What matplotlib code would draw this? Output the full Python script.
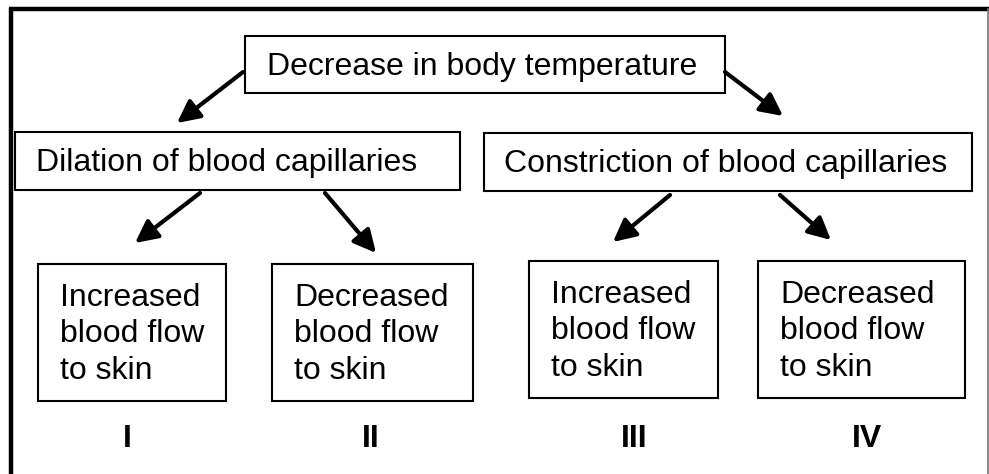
import matplotlib
matplotlib.use("Agg")
import matplotlib.pyplot as plt
from matplotlib.patches import Rectangle, FancyArrowPatch

plt.rcParams['font.family'] = ['Liberation Sans', 'DejaVu Sans']

# Boxes: (label, x0, y0, x1, y1) in pixel space
top_box = ("Decrease in body temperature", 245, 36, 725, 93)
mid_boxes = [
    ("Dilation of blood capillaries", 15, 132, 460, 190),
    ("Constriction of blood capillaries", 484, 133, 972, 191),
]
bottom_lines = [["Increased", "blood flow", "to skin"],
                ["Decreased", "blood flow", "to skin"],
                ["Increased", "blood flow", "to skin"],
                ["Decreased", "blood flow", "to skin"]]
bottom_boxes = [(38, 264, 226, 401), (272, 264, 473, 401),
                (529, 261, 718, 398), (758, 261, 965, 398)]
numerals = ["I", "II", "III", "IV"]
numeral_x = [127, 371, 634, 867]
arrows = [((243, 72), (177, 123)), ((725, 72), (783, 116)),
          ((200, 193), (135, 243)), ((325, 193), (376, 253)),
          ((670, 195), (613, 242)), ((780, 195), (831, 240))]

W, H = 989, 474
fig = plt.figure(figsize=(W / 100, H / 100), dpi=100)
ax = fig.add_axes([0, 0, 1, 1])
ax.set_xlim(0, W)
ax.set_ylim(H, 0)
ax.axis('off')

# outer frame
ax.plot([9, 989], [9, 9], color='black', lw=3.2, solid_capstyle='butt')
ax.plot([11, 11], [7.5, 474], color='black', lw=3.2, solid_capstyle='butt')
ax.plot([987.5, 987.5], [9, 474], color='#777777', lw=1.2)

def box(x0, y0, x1, y1):
    ax.add_patch(Rectangle((x0, y0), x1 - x0, y1 - y0, fill=False,
                           edgecolor='black', lw=1.5))

FS = 23
t, x0, y0, x1, y1 = top_box
box(x0, y0, x1, y1)
ax.text((x0 + x1) / 2 - 2.5, y0 + 39, t, ha='center', va='baseline', fontsize=FS)

for (t, x0, y0, x1, y1), dx in zip(mid_boxes, [-10.5, -2]):
    box(x0, y0, x1, y1)
    ax.text((x0 + x1) / 2 + dx, y0 + 39, t, ha='center', va='baseline', fontsize=FS)

for lines, (x0, y0, x1, y1) in zip(bottom_lines, bottom_boxes):
    box(x0, y0, x1, y1)
    for i, ln in enumerate(lines):
        ax.text(x0 + 22, y0 + 42 + 36.3 * i, ln, ha='left', va='baseline', fontsize=FS)

for n, x in zip(numerals, numeral_x):
    ax.text(x, 447, n, ha='center', va='baseline', fontsize=23, fontweight='bold')

for (sx, sy), (ex, ey) in arrows:
    ax.add_patch(FancyArrowPatch((sx, sy), (ex, ey), arrowstyle='-|>',
                                 mutation_scale=34, lw=3.0, color='black',
                                 shrinkA=0, shrinkB=0))

fig.savefig("out.png", dpi=100)
